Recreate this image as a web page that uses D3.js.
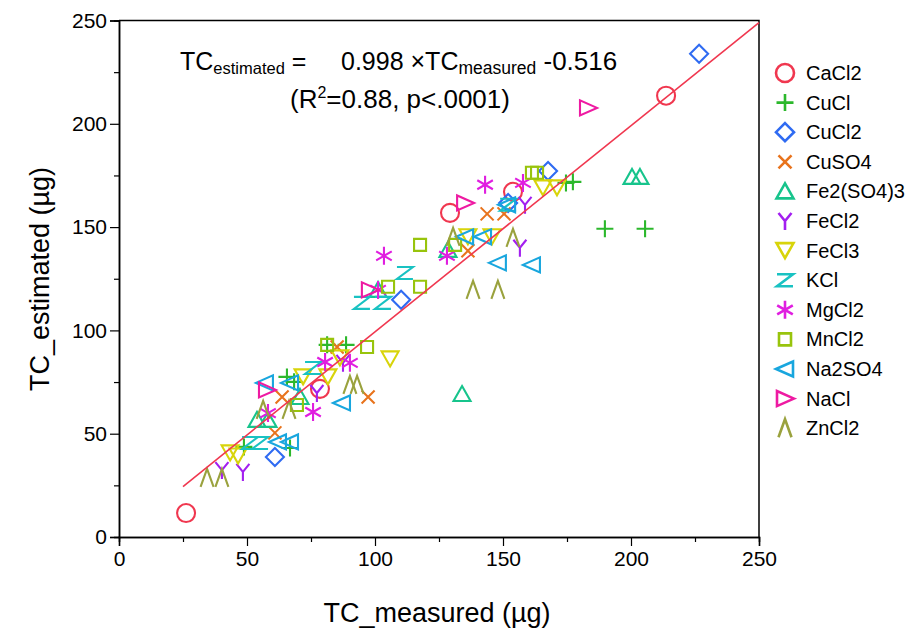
<!DOCTYPE html>
<html><head><meta charset="utf-8">
<script src="https://cdn.jsdelivr.net/npm/d3@7/dist/d3.min.js"></script>
<style>body{margin:0;background:#fff} text{font-family:"Liberation Sans",Arial,sans-serif;fill:#000}</style>
</head><body><svg id="c" width="912" height="634"></svg>
<script>
// ---- data ----
const seriesNames = ["CaCl2","CuCl","CuCl2","CuSO4","Fe2(SO4)3","FeCl2","FeCl3","KCl","MgCl2","MnCl2","Na2SO4","NaCl","ZnCl2"];
const seriesColors = ["#f0374f","#2cb82c","#2f6bf2","#e8731c","#17c48c","#a31ff0","#d8d40a","#19c2c2","#e01ee0","#98c40c","#18a6de","#ee1aa2","#9aa23e"];
const seriesShapes = ["circle","plus","diamond","x","triUp","Y","triDown","Z","star","square","triLeft","triRight","caret"];

const CaCl2 = [[26.2,11.6],[78.5,71.7],[129.3,156.9],[153.9,167.1],[213.7,213.6]];
const CuCl = [[174.6,171.4],[177.3,171.9],[189.8,149.2],[205.5,149.2],[65.6,77.5],[68.4,75.1],[81.3,93.0],[88.7,93.0],[66.8,43.1],[48.8,43.6]];
const CuCl2 = [[226.6,233.9],[167.6,177.2],[152.0,161.7],[110.2,114.8],[60.9,38.7]];
const CuSO4 = [[143.8,156.4],[150.4,156.4],[136.3,138.5],[85.2,92.0],[63.7,67.8],[97.3,67.8],[60.9,50.4]];
const Fe2SO43 = [[200.4,174.3],[203.5,174.3],[134.0,69.2],[101.2,119.6],[128.5,139.0],[53.9,56.7],[58.2,56.7],[70.7,67.8]];
const FeCl2 = [[158.6,160.8],[156.6,140.0],[87.5,84.3],[77.3,69.7],[40.2,32.4],[48.4,31.5]];
const FeCl3 = [[165.6,169.0],[171.1,169.0],[136.3,145.3],[145.7,145.3],[105.9,86.2],[86.3,86.7],[71.9,77.5],[81.6,77.5],[43.4,40.7],[46.5,39.2]];
const KCl = [[152.0,160.8],[111.7,127.8],[94.9,113.3],[103.1,113.3],[75.8,81.8],[51.2,45.5],[55.1,45.5]];
const MgCl2 = [[143.0,170.5],[157.8,171.4],[103.5,136.1],[128.1,136.1],[101.2,119.6],[80.5,84.7],[90.2,84.3],[75.8,60.5],[58.2,60.0]];
const MnCl2 = [[161.3,176.3],[163.3,176.3],[117.6,141.4],[131.3,141.4],[105.1,121.1],[117.6,121.1],[96.9,92.0],[81.3,93.0],[69.5,63.9]];
const Na2SO4 = [[148.0,132.7],[161.3,131.7],[135.2,145.3],[142.2,145.3],[151.6,160.8],[57.0,74.6],[66.8,74.6],[87.1,64.9],[62.1,46.0],[66.8,46.0]];
const NaCl = [[183.2,207.7],[135.2,161.7],[98.0,119.6],[57.8,71.2]];
const ZnCl2 = [[153.9,144.8],[130.5,145.3],[138.3,119.6],[148.0,119.6],[90.2,73.6],[93.0,73.6],[56.3,61.5],[66.4,61.5],[34.4,28.6],[40.2,28.6]];
const seriesData = [CaCl2,CuCl,CuCl2,CuSO4,Fe2SO43,FeCl2,FeCl3,KCl,MgCl2,MnCl2,Na2SO4,NaCl,ZnCl2];

const xTicks = [0,50,100,150,200,250];
const yTicks = [0,50,100,150,200,250];
const minorTicks = [25,75,125,175,225];
const slope = 0.998, intercept = -0.516, fitRange = [25,250];

// ---- layout ----
const L = 119, R = 759, T = 20.5, B = 537;
const svg = d3.select("#c");
const x = d3.scaleLinear().domain([0,250]).range([L,R]);
const y = d3.scaleLinear().domain([0,250]).range([B,T]);

const shapes = {
  circle:"M-9,0A9,9 0 1,0 9,0A9,9 0 1,0 -9,0Z",
  plus:"M-8.5,0H8.5M0,-8.5V8.5",
  diamond:"M0,-9L9,0L0,9L-9,0Z",
  x:"M-6.5,-6.5L6.5,6.5M-6.5,6.5L6.5,-6.5",
  triUp:"M0,-8L8.5,7H-8.5Z",
  Y:"M0,0L-6.5,-8M0,0L6.5,-8M0,0V9",
  triDown:"M0,7.5L8.5,-7.5H-8.5Z",
  Z:"M-8,-6H8L-8,6H8",
  star:"M0,-9V9M-7.8,-4.5L7.8,4.5M-7.8,4.5L7.8,-4.5",
  square:"M-6,-6H6V6H-6Z",
  triLeft:"M-9,0L8,-7.5V7.5Z",
  triRight:"M9,0L-8,-7.5V7.5Z",
  caret:"M-6.5,9L0,-9L6.5,9"
};

// axes
svg.append("g").attr("transform",`translate(0,${B})`)
  .call(d3.axisBottom(x).tickValues(xTicks).tickSize(9).tickPadding(5));
svg.append("g").attr("transform",`translate(0,${B})`)
  .call(d3.axisBottom(x).tickValues(minorTicks).tickSize(5).tickFormat(""));
svg.append("g").attr("transform",`translate(${L},0)`)
  .call(d3.axisLeft(y).tickValues(yTicks).tickSize(9).tickPadding(3));
svg.append("g").attr("transform",`translate(${L},0)`)
  .call(d3.axisLeft(y).tickValues(minorTicks).tickSize(5).tickFormat(""));
svg.selectAll(".domain").attr("stroke","#000").attr("stroke-width",1.5);
svg.selectAll(".tick line").attr("stroke","#000").attr("stroke-width",1.2);
svg.selectAll(".tick text").style("font-size","21px").style("font-family","'Liberation Sans',Arial,sans-serif").attr("fill","#000");
svg.append("path").attr("d",`M${L},${T}H${R}V${B}`).attr("fill","none").attr("stroke","#000").attr("stroke-width",1.5);

// points
seriesData.forEach((pts,i)=>{
  svg.append("g").selectAll("path").data(pts).join("path")
    .attr("d",shapes[seriesShapes[i]])
    .attr("transform",d=>`translate(${x(d[0])},${y(d[1])})`)
    .attr("fill","none").attr("stroke",seriesColors[i]).attr("stroke-width",2.1);
});

// fit line
svg.append("line")
  .attr("x1",x(fitRange[0])).attr("y1",y(slope*fitRange[0]+intercept))
  .attr("x2",x(fitRange[1])).attr("y2",y(slope*fitRange[1]+intercept))
  .attr("stroke","#f0374f").attr("stroke-width",1.6);

// equation
const eq = svg.append("text").attr("x",180).attr("y",70).style("font-size","25px");
eq.append("tspan").text("TC");
eq.append("tspan").attr("dy",4).style("font-size","16.5px").text("estimated");
eq.append("tspan").attr("dy",-4).text(" =");
eq.append("tspan").attr("x",341).text("0.998 ×TC");
eq.append("tspan").attr("dy",4).style("font-size","17.5px").text("measured");
eq.append("tspan").attr("dy",-4).style("font-size","26px").text(" -0.516");
const eq2 = svg.append("text").attr("x",290).attr("y",108).style("font-size","26px");
eq2.append("tspan").text("(R");
eq2.append("tspan").attr("dy",-10).style("font-size","16px").text("2");
eq2.append("tspan").attr("dy",10).text("=0.88, p<.0001)");

// axis titles
svg.append("text").attr("x",437).attr("y",622).attr("text-anchor","middle").style("font-size","27px").text("TC_measured (µg)");
svg.append("text").attr("transform","translate(49,279) rotate(-90)").attr("text-anchor","middle").style("font-size","27px").text("TC_estimated (µg)");

// legend
const lg = svg.append("g");
seriesNames.forEach((n,i)=>{
  const yy = 73 + i*29.6;
  lg.append("path").attr("d",shapes[seriesShapes[i]]).attr("transform",`translate(785,${yy})`)
    .attr("fill","none").attr("stroke",seriesColors[i]).attr("stroke-width",2.6);
  lg.append("text").attr("x",806).attr("y",yy+7).style("font-size","20px").text(n);
});
</script></body></html>
